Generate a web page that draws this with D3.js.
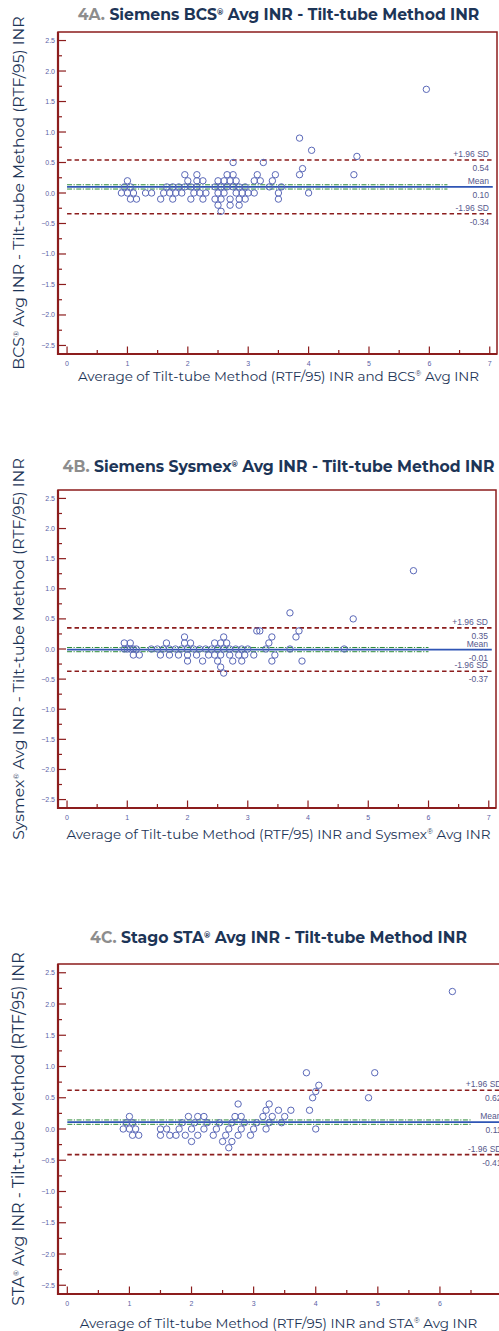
<!doctype html>
<html>
  <head>
    <meta charset="utf-8" />
    <title>Bland-Altman INR</title>
    <style>
      body { margin: 0; background: #fff; }
      svg { display: block; }
    </style>
  </head>
  <body>
    <svg id="chart" width="499" height="1331"></svg>

    <script src="https://d3js.org/d3.v7.min.js"></script>
    <script>
      // ---- data ----
      const xTicks = [0, 1, 2, 3, 4, 5, 6, 7];
      const yTicks = [2.5, 2.0, 1.5, 1.0, 0.5, 0.0, -0.5, -1.0, -1.5, -2.0, -2.5];

      const titleLead = ['4A.', '4B.', '4C.'];
      const titleMain = [
        'Siemens BCS® Avg INR - Tilt-tube Method INR',
        'Siemens Sysmex® Avg INR - Tilt-tube Method INR',
        'Stago STA® Avg INR - Tilt-tube Method INR',
      ];
      const yTitles = [
        'BCS® Avg INR - Tilt-tube Method (RTF/95) INR',
        'Sysmex® Avg INR - Tilt-tube Method (RTF/95) INR',
        'STA® Avg INR - Tilt-tube Method (RTF/95) INR',
      ];
      const xTitles = [
        'Average of Tilt-tube Method (RTF/95) INR and BCS® Avg INR',
        'Average of Tilt-tube Method (RTF/95) INR and Sysmex® Avg INR',
        'Average of Tilt-tube Method (RTF/95) INR and STA® Avg INR',
      ];

      const upperLoA = [0.54, 0.35, 0.62];
      const meanDiff = [0.1, -0.01, 0.11];
      const lowerLoA = [-0.34, -0.37, -0.41];
      const ciLow = [0.065, -0.045, 0.075];
      const ciHigh = [0.135, 0.025, 0.145];
      const ciEnd = [6.3, 6.0, 6.5];

      const bcsAvg = [
        0.9, 1.0, 1.1, 1.3, 1.4, 1.6, 1.7, 1.8, 1.9, 2.1, 2.2, 2.3, 2.5, 2.6, 2.8, 2.9, 3.1, 3.5, 4.0, 3.0,
        0.95, 1.05, 1.65, 1.75, 1.85, 1.95, 2.05, 2.15, 2.45, 2.55, 2.65, 2.75, 2.85, 2.95, 3.35, 3.55,
        1.0, 2.0, 2.15, 2.25, 2.5, 2.6, 2.7, 2.8, 3.1, 3.2, 3.4,
        1.95, 2.15, 2.65, 2.75, 3.15, 3.45, 3.85, 4.75,
        3.9, 2.75, 3.25, 4.8, 4.05, 3.85, 5.95,
        1.05, 1.15, 1.55, 1.75, 2.05, 2.25, 2.45, 2.55, 2.7, 2.85, 2.95, 3.5,
        2.5, 2.7, 2.85, 2.55,
      ];
      const bcsDiff = [
        0, 0, 0, 0, 0, 0, 0, 0, 0, 0, 0, 0, 0, 0, 0, 0, 0, 0, 0, 0,
        0.1, 0.1, 0.1, 0.1, 0.1, 0.1, 0.1, 0.1, 0.1, 0.1, 0.1, 0.1, 0.1, 0.1, 0.1, 0.1,
        0.2, 0.2, 0.2, 0.2, 0.2, 0.2, 0.2, 0.2, 0.2, 0.2, 0.2,
        0.3, 0.3, 0.3, 0.3, 0.3, 0.3, 0.3, 0.3,
        0.4, 0.5, 0.5, 0.6, 0.7, 0.9, 1.7,
        -0.1, -0.1, -0.1, -0.1, -0.1, -0.1, -0.1, -0.1, -0.1, -0.1, -0.1, -0.1,
        -0.2, -0.2, -0.2, -0.3,
      ];

      const sysmexAvg = [
        0.95, 1.0, 1.05, 1.1, 1.15, 1.4, 1.5, 1.6, 1.7, 1.8, 1.9, 2.0, 2.1, 2.2, 2.3, 2.4, 2.5, 2.6, 2.7, 2.8, 2.9, 3.0, 3.3, 3.7, 4.6,
        0.95, 1.05, 1.65, 1.95, 2.05, 2.45, 2.55, 2.65, 3.35,
        1.95, 2.6, 3.4, 3.8,
        3.15, 3.85, 3.2,
        3.7, 4.75, 5.75,
        1.1, 1.2, 1.55, 1.7, 1.85, 2.0, 2.15, 2.35, 2.45, 2.55, 2.7, 2.85, 2.95, 3.1, 3.45,
        2.0, 2.25, 2.5, 2.75, 2.9, 3.4, 3.9,
        2.55, 2.6,
      ];
      const sysmexDiff = [
        0, 0, 0, 0, 0, 0, 0, 0, 0, 0, 0, 0, 0, 0, 0, 0, 0, 0, 0, 0, 0, 0, 0, 0, 0,
        0.1, 0.1, 0.1, 0.1, 0.1, 0.1, 0.1, 0.1, 0.1,
        0.2, 0.2, 0.2, 0.2,
        0.3, 0.3, 0.3,
        0.6, 0.5, 1.3,
        -0.1, -0.1, -0.1, -0.1, -0.1, -0.1, -0.1, -0.1, -0.1, -0.1, -0.1, -0.1, -0.1, -0.1, -0.1,
        -0.2, -0.2, -0.2, -0.2, -0.2, -0.2, -0.2,
        -0.3, -0.4,
      ];

      const staAvg = [
        0.9, 1.0, 1.1, 1.5, 1.6, 1.8, 2.0, 2.2, 2.4, 2.6, 2.8, 3.0, 3.2, 4.0,
        0.95, 1.05, 1.85, 2.05, 2.25, 2.45, 2.65, 2.85, 3.05, 3.25, 3.45,
        1.0, 1.95, 2.1, 2.2, 2.7, 2.8, 3.15, 3.3, 3.5,
        3.2, 3.4, 3.6, 3.9,
        2.75, 3.25, 3.95,
        4.85, 4.0,
        4.05, 3.85, 4.95, 6.2,
        1.05, 1.15, 1.5, 1.65, 1.75, 1.9, 2.1, 2.35, 2.55, 2.75, 2.95,
        2.0, 2.5, 2.65,
        2.6,
      ];
      const staDiff = [
        0, 0, 0, 0, 0, 0, 0, 0, 0, 0, 0, 0, 0, 0,
        0.1, 0.1, 0.1, 0.1, 0.1, 0.1, 0.1, 0.1, 0.1, 0.1, 0.1,
        0.2, 0.2, 0.2, 0.2, 0.2, 0.2, 0.2, 0.2, 0.2,
        0.3, 0.3, 0.3, 0.3,
        0.4, 0.4, 0.5,
        0.5, 0.6,
        0.7, 0.9, 0.9, 2.2,
        -0.1, -0.1, -0.1, -0.1, -0.1, -0.1, -0.1, -0.1, -0.1, -0.1, -0.1,
        -0.2, -0.2, -0.2,
        -0.3,
      ];

      const seriesAvg = [bcsAvg, sysmexAvg, staAvg];
      const seriesDiff = [bcsDiff, sysmexDiff, staDiff];

      // ---- layout (pixel boxes of the three panels) ----
      const panels = [
        { left: 58, right: 497, top: 32, bottom: 354, titleY: 20, xTitleY: 381 },
        { left: 58, right: 496, top: 490, bottom: 808, titleY: 472, xTitleY: 839 },
        { left: 58, right: 509.5, top: 964, bottom: 1294, titleY: 943, xTitleY: 1328 },
      ];

      const frameColor = '#8c1d1d';
      const tickTextColor = '#5b5fa6';
      const navy = '#1d3557';
      const pointColor = '#5a68b8';
      const labelFont = 'Montserrat, "Open Sans", Inter, sans-serif';
      const smallFont = '"Liberation Sans", Arial, sans-serif';

      const svg = d3.select('#chart');

      // write text, turning "®" into a small superscript
      function richText(sel, str, supSize) {
        const parts = str.split('®');
        parts.forEach((p, i) => {
          if (i > 0) {
            sel.append('tspan').attr('font-size', supSize).attr('dy', -5).text('®');
            sel.append('tspan').attr('dy', 5).text(p);
          } else {
            sel.append('tspan').text(p);
          }
        });
      }

      // scale font so the text spans a given width
      function fitWidth(sel, base, target) {
        const w = sel.node().getComputedTextLength();
        sel.attr('font-size', base * target / w);
      }

      const titleWidths = [403, 433, 378];
      const xTitleWidths = [402, 425, 398];
      const yTitleWidths = [355, 383, 355];

      panels.forEach((p, k) => {
        const x = d3.scaleLinear().domain([-0.15, 7.12]).range([p.left, p.right]);
        const y = d3.scaleLinear().domain([-2.64, 2.64]).range([p.bottom, p.top]);
        const g = svg.append('g');
        const cx = (p.left + 497) / 2 + 1;

        // title
        const t = g.append('text')
          .attr('x', cx).attr('y', p.titleY)
          .attr('text-anchor', 'middle')
          .attr('font-family', labelFont).attr('font-weight', 700)
          .attr('font-size', 14).attr('fill', navy);
        t.append('tspan').attr('fill', '#8d8d8d').text(titleLead[k] + ' ');
        richText(t, titleMain[k], 8);
        fitWidth(t, 14, titleWidths[k]);

        // reference lines
        const lineEnd = x(7.05);
        g.append('line')
          .attr('x1', x(0)).attr('x2', x(ciEnd[k]))
          .attr('y1', y(ciHigh[k])).attr('y2', y(ciHigh[k]))
          .attr('stroke', '#2e8b3a').attr('stroke-width', 1)
          .attr('stroke-dasharray', '5,1.5,1.2,1.5');
        g.append('line')
          .attr('x1', x(0)).attr('x2', x(ciEnd[k]))
          .attr('y1', y(ciLow[k])).attr('y2', y(ciLow[k]))
          .attr('stroke', '#2e8b3a').attr('stroke-width', 1)
          .attr('stroke-dasharray', '5,1.5,1.2,1.5');
        g.append('line')
          .attr('x1', x(0)).attr('x2', lineEnd)
          .attr('y1', y(meanDiff[k])).attr('y2', y(meanDiff[k]))
          .attr('stroke', '#2f55b5').attr('stroke-width', 1.6);
        [upperLoA[k], lowerLoA[k]].forEach((v) => {
          g.append('line')
            .attr('x1', x(0)).attr('x2', lineEnd)
            .attr('y1', y(v)).attr('y2', y(v))
            .attr('stroke', frameColor).attr('stroke-width', 1.6)
            .attr('stroke-dasharray', '4.5,3');
        });

        // right-hand labels
        const lx = p.right - 8;
        const labels = [
          ['+1.96 SD', y(upperLoA[k]) - 3],
          [upperLoA[k].toFixed(2), y(upperLoA[k]) + 11],
          ['Mean', y(meanDiff[k]) - 3],
          [meanDiff[k].toFixed(2), y(meanDiff[k]) + 11],
          ['-1.96 SD', y(lowerLoA[k]) - 3],
          [lowerLoA[k].toFixed(2), y(lowerLoA[k]) + 11],
        ];
        labels.forEach(([s, yy]) => {
          g.append('text')
            .attr('x', lx).attr('y', yy)
            .attr('text-anchor', 'end')
            .attr('font-family', smallFont).attr('font-size', 8.5)
            .attr('fill', '#56588c').text(s);
        });

        // points
        g.selectAll('circle.pt')
          .data(d3.zip(seriesAvg[k], seriesDiff[k]))
          .join('circle')
          .attr('class', 'pt')
          .attr('cx', (d) => x(d[0]))
          .attr('cy', (d) => y(d[1]))
          .attr('r', 3.2)
          .attr('fill', 'none')
          .attr('stroke', pointColor)
          .attr('stroke-width', 1);

        // frame
        g.append('rect')
          .attr('x', p.left).attr('y', p.top)
          .attr('width', p.right - p.left).attr('height', p.bottom - p.top)
          .attr('fill', 'none').attr('stroke', frameColor).attr('stroke-width', 1.5);
        g.append('path')
          .attr('d', `M${p.left},${p.top}V${p.bottom}H${p.right}`)
          .attr('fill', 'none').attr('stroke', frameColor).attr('stroke-width', 2.2);

        // ticks: x major / minor (inward)
        d3.range(0, 7.01, 0.5).forEach((v) => {
          const major = Number.isInteger(v);
          g.append('line')
            .attr('x1', x(v)).attr('x2', x(v))
            .attr('y1', p.bottom).attr('y2', p.bottom - (major ? 7.5 : 4))
            .attr('stroke', frameColor).attr('stroke-width', 1.2);
        });
        d3.range(-2.5, 2.51, 0.25).forEach((v) => {
          const major = Math.abs(v * 2 - Math.round(v * 2)) < 1e-6;
          g.append('line')
            .attr('x1', p.left).attr('x2', p.left + (major ? 8 : 4))
            .attr('y1', y(v)).attr('y2', y(v))
            .attr('stroke', frameColor).attr('stroke-width', 1.2);
        });

        // tick labels
        xTicks.forEach((v) => {
          g.append('text')
            .attr('x', x(v)).attr('y', p.bottom + 11.5)
            .attr('text-anchor', 'middle')
            .attr('font-family', smallFont).attr('font-size', 7)
            .attr('fill', tickTextColor).text(v);
        });
        yTicks.forEach((v) => {
          g.append('text')
            .attr('x', p.left - 3).attr('y', y(v) + 2.5)
            .attr('text-anchor', 'end')
            .attr('font-family', smallFont).attr('font-size', 7)
            .attr('fill', tickTextColor).text(d3.format('.1f')(v));
        });

        // axis titles
        const xt = g.append('text')
          .attr('x', cx).attr('y', p.xTitleY)
          .attr('text-anchor', 'middle')
          .attr('font-family', labelFont).attr('font-size', 13)
          .attr('fill', navy);
        richText(xt, xTitles[k], 7.5);
        fitWidth(xt, 13, xTitleWidths[k]);

        const yc = (p.top + p.bottom) / 2;
        const yt = g.append('text')
          .attr('transform', `translate(24,${yc}) rotate(-90)`)
          .attr('text-anchor', 'middle')
          .attr('font-family', labelFont).attr('font-size', 13)
          .attr('fill', navy);
        richText(yt, yTitles[k], 7.5);
        fitWidth(yt, 13, yTitleWidths[k]);
      });
    </script>
  </body>
</html>
